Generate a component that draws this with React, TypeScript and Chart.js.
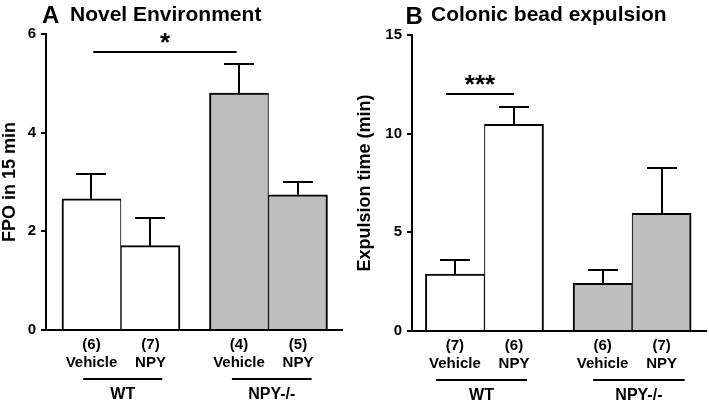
import React, { useEffect, useRef } from "react";
import { Chart, registerables } from "chart.js";

Chart.register(...registerables);

// ---------- data ----------
const barPositions = [0, 1, 2.5, 3.5];
const treatmentLabels = ["Vehicle", "NPY", "Vehicle", "NPY"];
const barColors = ["#ffffff", "#ffffff", "#bebebe", "#bebebe"];
const groupLabels = ["WT", "NPY-/-"];

const fpoN = ["(6)", "(7)", "(4)", "(5)"];
const fpoMeans = [2.66, 1.71, 4.8, 2.74];
const fpoErr = [0.5, 0.57, 0.59, 0.26];
const fpoTicks = [0, 2, 4, 6];

const beadN = ["(7)", "(6)", "(6)", "(7)"];
const beadMeans = [2.89, 10.47, 2.42, 5.96];
const beadErr = [0.71, 0.87, 0.67, 2.28];
const beadTicks = [0, 5, 10, 15];

const FONT = "'Liberation Sans', Arial, Helvetica, sans-serif";

type PanelCfg = {
  letter: string;
  title: string;
  yTitle: string;
  n: string[];
  means: number[];
  errs: number[];
  ticks: number[];
  yMax: number;
  xMin: number;
  xMax: number;
  axisWidth: number;
  top: number;
  bottom: number;
  right: number;
  yTitlePad: number;
  letterX: number;
  letterBase: number;
  titleX: number;
  sig: { x1: number; x2: number; y: number; text: string };
  groups: { x1: number; x2: number }[];
};

const panelPlugin = {
  id: "panelExtras",
  afterDraw(chart: any, _args: any, opts: any) {
    const ctx = chart.ctx as CanvasRenderingContext2D;
    const xs = chart.scales.x;
    const ys = chart.scales.y;
    const area = chart.chartArea;
    const cfg: PanelCfg = opts.cfg;
    ctx.save();
    ctx.strokeStyle = "#000";
    ctx.fillStyle = "#000";
    ctx.lineWidth = 2;
    // x axis line
    const y0px = Math.round(ys.getPixelForValue(0));
    ctx.fillRect(area.left - 5, y0px - 1, area.right - area.left + 5, 2);
    // error bars
    cfg.means.forEach((m, i) => {
      const x = Math.round(xs.getPixelForValue(barPositions[i]));
      const y0 = ys.getPixelForValue(m);
      const y1 = Math.round(ys.getPixelForValue(m + cfg.errs[i]));
      ctx.beginPath();
      ctx.moveTo(x, y0);
      ctx.lineTo(x, y1);
      ctx.moveTo(x - 15, y1);
      ctx.lineTo(x + 15, y1);
      ctx.stroke();
    });
    // significance
    const sy = Math.round(ys.getPixelForValue(cfg.sig.y));
    const sx1 = xs.getPixelForValue(cfg.sig.x1);
    const sx2 = xs.getPixelForValue(cfg.sig.x2);
    ctx.beginPath();
    ctx.moveTo(sx1, sy);
    ctx.lineTo(sx2, sy);
    ctx.stroke();
    ctx.font = `bold 26px ${FONT}`;
    ctx.textAlign = "center";
    ctx.textBaseline = "alphabetic";
    ctx.fillText(cfg.sig.text, (sx1 + sx2) / 2, sy - 1);
    // group underlines & labels
    ctx.font = `bold 16px ${FONT}`;
    ctx.textBaseline = "middle";
    cfg.groups.forEach((g, i) => {
      const gx1 = xs.getPixelForValue(g.x1);
      const gx2 = xs.getPixelForValue(g.x2);
      ctx.beginPath();
      ctx.moveTo(gx1, y0px + 49);
      ctx.lineTo(gx2, y0px + 49);
      ctx.stroke();
      ctx.fillText(groupLabels[i], (gx1 + gx2) / 2, y0px + 65);
    });
    // panel title
    ctx.textAlign = "left";
    ctx.textBaseline = "alphabetic";
    ctx.font = `bold 24px ${FONT}`;
    ctx.fillText(cfg.letter, cfg.letterX, cfg.letterBase);
    ctx.font = `bold 21px ${FONT}`;
    ctx.fillText(cfg.title, cfg.titleX, 20.5);
    ctx.restore();
  },
};

function makeConfig(cfg: PanelCfg): any {
  return {
    type: "bar",
    data: {
      datasets: [
        {
          data: barPositions.map((x, i) => ({ x, y: cfg.means[i] })),
          backgroundColor: barColors,
          borderColor: "#000",
          borderWidth: (c: any) =>
            c.dataIndex % 2 === 0
              ? { top: 2, left: 2, right: 1, bottom: 0 }
              : { top: 2, left: 1, right: 2, bottom: 0 },
          borderSkipped: false,
          barPercentage: 1,
          categoryPercentage: 1,
        },
      ],
    },
    options: {
      responsive: false,
      animation: false,
      events: [],
      layout: { padding: { top: cfg.top, right: cfg.right, left: 0, bottom: 0 } },
      plugins: {
        legend: { display: false },
        tooltip: { enabled: false },
        panelExtras: { cfg },
      },
      scales: {
        x: {
          type: "linear",
          offset: false,
          min: cfg.xMin,
          max: cfg.xMax,
          grid: { display: false, drawTicks: false },
          border: { display: false },
          afterBuildTicks: (s: any) => {
            s.ticks = barPositions.map((v) => ({ value: v }));
          },
          afterFit: (s: any) => {
            s.height = cfg.bottom;
          },
          ticks: {
            autoSkip: false,
            maxRotation: 0,
            padding: 6,
            color: "#000",
            font: { family: FONT, size: 15, weight: "bold", lineHeight: 1.2 },
            callback: (_v: any, i: number) => [cfg.n[i], treatmentLabels[i]],
          },
        },
        y: {
          min: 0,
          max: cfg.yMax,
          afterBuildTicks: (s: any) => {
            s.ticks = cfg.ticks.map((v) => ({ value: v }));
          },
          afterFit: (s: any) => {
            s.width = cfg.axisWidth;
          },
          grid: {
            display: true,
            drawOnChartArea: false,
            drawTicks: true,
            tickLength: 5,
            color: "#000",
            lineWidth: 2,
          },
          border: { display: true, color: "#000", width: 2 },
          ticks: {
            padding: 5,
            color: "#000",
            font: { family: FONT, size: 15, weight: "bold" },
          },
          title: {
            display: true,
            text: cfg.yTitle,
            color: "#000",
            padding: { top: cfg.yTitlePad, bottom: 0 },
            font: { family: FONT, size: 18, weight: "bold", lineHeight: 1.1 },
          },
        },
      },
    },
    plugins: [panelPlugin],
  };
}

const leftCfg: PanelCfg = {
  letter: "A",
  title: "Novel Environment",
  yTitle: "FPO in 15 min",
  n: fpoN,
  means: fpoMeans,
  errs: fpoErr,
  ticks: fpoTicks,
  yMax: 6,
  xMin: -0.771,
  xMax: 4.263,
  axisWidth: 46,
  top: 34,
  bottom: 75,
  right: 11,
  yTitlePad: 0,
  letterX: 42,
  letterBase: 23,
  titleX: 70,
  sig: { x1: 0.03, x2: 2.46, y: 5.64, text: "*" },
  groups: [
    { x1: -0.14, x2: 1.2 },
    { x1: 2.38, x2: 3.73 },
  ],
};

const rightCfg: PanelCfg = {
  letter: "B",
  title: "Colonic bead expulsion",
  yTitle: "Expulsion time (min)",
  n: beadN,
  means: beadMeans,
  errs: beadErr,
  ticks: beadTicks,
  yMax: 15,
  xMin: -0.727,
  xMax: 4.268,
  axisWidth: 58,
  top: 35,
  bottom: 74,
  right: 2,
  yTitlePad: 1.5,
  letterX: 51.5,
  letterBase: 24,
  titleX: 77,
  sig: { x1: -0.15, x2: 1.0, y: 12.0, text: "***" },
  groups: [
    { x1: -0.32, x2: 1.22 },
    { x1: 2.34, x2: 3.89 },
  ],
};

function Panel({ cfg, left, width }: { cfg: PanelCfg; left: number; width: number }) {
  const ref = useRef<HTMLCanvasElement | null>(null);
  useEffect(() => {
    if (!ref.current) return;
    const chart = new Chart(ref.current, makeConfig(cfg));
    return () => chart.destroy();
  }, [cfg]);
  return (
    <canvas
      ref={ref}
      width={width}
      height={405}
      style={{ position: "absolute", left, top: 0, width, height: 405, display: "block" }}
    />
  );
}

export default function App() {
  return (
    <div
      style={{
        position: "fixed",
        left: 0,
        top: 0,
        width: 709,
        height: 405,
        background: "#fff",
        overflow: "hidden",
      }}
    >
      <Panel cfg={leftCfg} left={0} width={354} />
      <Panel cfg={rightCfg} left={354} width={355} />
    </div>
  );
}
